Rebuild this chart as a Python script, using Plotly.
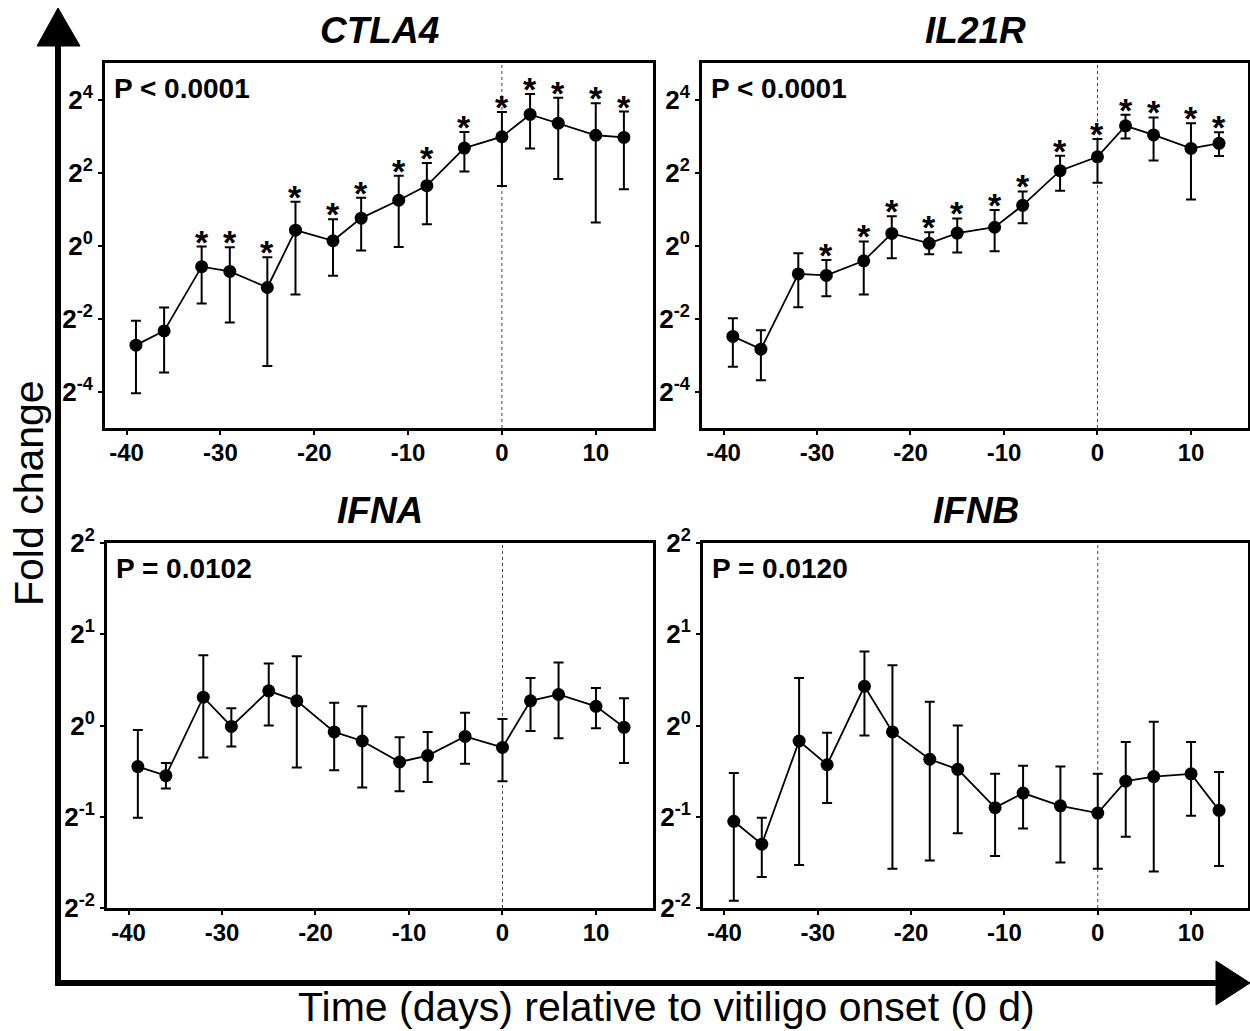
import plotly.graph_objects as go

W, H = 1250, 1031

# ---------------- data (log2 fold change) ----------------
days = [-39, -36, -32, -29, -25, -22, -18, -15, -11, -8, -4, 0, 3, 6, 10, 13]

ctla4_mean = [-2.73, -2.34, -0.58, -0.71, -1.15, 0.42, 0.13, 0.75, 1.24, 1.64, 2.67, 2.98, 3.59, 3.35, 3.02, 2.96]
ctla4_upper = [-2.06, -1.70, -0.03, -0.05, -0.32, 1.20, 0.72, 1.31, 1.91, 2.26, 3.11, 3.66, 4.15, 4.05, 3.90, 3.67]
ctla4_lower = [-4.05, -3.48, -1.59, -2.11, -3.30, -1.34, -0.83, -0.14, -0.04, 0.58, 2.03, 1.63, 2.66, 1.82, 0.63, 1.54]
ctla4_sig = [0, 0, 1, 1, 1, 1, 1, 1, 1, 1, 1, 1, 1, 1, 1, 1]

il21r_mean = [-2.49, -2.84, -0.78, -0.82, -0.42, 0.33, 0.06, 0.34, 0.50, 1.10, 2.05, 2.43, 3.28, 3.03, 2.66, 2.80]
il21r_upper = [-1.99, -2.32, -0.21, -0.40, 0.11, 0.80, 0.36, 0.74, 0.97, 1.48, 2.46, 2.92, 3.58, 3.51, 3.35, 3.10]
il21r_lower = [-3.32, -3.69, -1.69, -1.39, -1.34, -0.35, -0.24, -0.19, -0.16, 0.61, 1.50, 1.72, 2.93, 2.33, 1.26, 2.45]
il21r_sig = [0, 0, 0, 1, 1, 1, 1, 1, 1, 1, 1, 1, 1, 1, 1, 1]

ifna_mean = [-0.45, -0.55, 0.31, -0.01, 0.38, 0.27, -0.07, -0.17, -0.40, -0.33, -0.12, -0.24, 0.27, 0.34, 0.21, -0.02]
ifna_upper = [-0.05, -0.41, 0.77, 0.19, 0.68, 0.76, 0.25, 0.21, -0.13, -0.07, 0.14, 0.07, 0.52, 0.69, 0.41, 0.30]
ifna_lower = [-1.01, -0.69, -0.35, -0.23, 0.00, -0.46, -0.49, -0.68, -0.72, -0.62, -0.42, -0.61, -0.06, -0.14, -0.03, -0.41]

ifnb_mean = [-1.05, -1.30, -0.17, -0.43, 0.43, -0.07, -0.37, -0.48, -0.90, -0.74, -0.88, -0.96, -0.61, -0.56, -0.53, -0.93]
ifnb_upper = [-0.52, -1.01, 0.52, -0.08, 0.81, 0.66, 0.26, 0.00, -0.53, -0.44, -0.45, -0.53, -0.18, 0.04, -0.18, -0.51]
ifnb_lower = [-1.92, -1.66, -1.53, -0.85, -0.11, -1.57, -1.48, -1.18, -1.43, -1.13, -1.50, -1.57, -1.22, -1.60, -0.99, -1.54]

x_ticks = [-40, -30, -20, -10, 0, 10]
top_yticks = [-4, -2, 0, 2, 4]
bottom_yticks = [-2, -1, 0, 1, 2]

titles = ["CTLA4", "IL21R", "IFNA", "IFNB"]
pvals = ["P < 0.0001", "P < 0.0001", "P = 0.0102", "P = 0.0120"]

FONT = "Liberation Sans, Arial, sans-serif"

def px(x):
    return x / W

def py(y):
    return 1 - y / H

panels = [
    dict(mean=ctla4_mean, up=ctla4_upper, lo=ctla4_lower, sig=ctla4_sig,
         box=(105, 653, 63, 428), yr=[-5, 5], yt=top_yticks),
    dict(mean=il21r_mean, up=il21r_upper, lo=il21r_lower, sig=il21r_sig,
         box=(702, 1248, 63, 428), yr=[-5, 5], yt=top_yticks),
    dict(mean=ifna_mean, up=ifna_upper, lo=ifna_lower, sig=None,
         box=(107, 653, 543, 908), yr=[-2, 2], yt=bottom_yticks),
    dict(mean=ifnb_mean, up=ifnb_upper, lo=ifnb_lower, sig=None,
         box=(703, 1248, 543, 908), yr=[-2, 2], yt=bottom_yticks),
]

fig = go.Figure()
layout = dict(
    width=W, height=H, autosize=False,
    margin=dict(l=0, r=0, t=0, b=0, pad=0, autoexpand=False),
    paper_bgcolor="white", plot_bgcolor="white", showlegend=False,
    font=dict(family=FONT, color="black"),
)
annotations = []
shapes = []

for i, p in enumerate(panels):
    n = "" if i == 0 else str(i + 1)
    xa, ya = "x" + n, "y" + n
    x0, x1, y0, y1 = p["box"]
    err_plus = [u - m for u, m in zip(p["up"], p["mean"])]
    err_minus = [m - l for m, l in zip(p["mean"], p["lo"])]
    fig.add_trace(go.Scatter(
        x=days, y=p["mean"], mode="lines+markers", xaxis=xa, yaxis=ya,
        line=dict(color="black", width=1.8),
        marker=dict(color="black", size=13),
        error_y=dict(type="data", symmetric=False, array=err_plus, arrayminus=err_minus,
                     color="black", thickness=2, width=5),
    ))
    if p["sig"] is not None:
        for d, u, s in zip(days, p["up"], p["sig"]):
            if s:
                annotations.append(dict(
                    text="<b>*</b>", x=d, y=u, xref=xa, yref=ya,
                    xanchor="center", yanchor="middle", yshift=5, showarrow=False,
                    font=dict(family=FONT, size=34, color="black"),
                ))
    axis_common = dict(
        showline=True, mirror=True, linewidth=3, linecolor="black",
        showgrid=False, zeroline=False, ticks="outside", ticklen=4, tickwidth=2,
        tickcolor="black", automargin=False,
    )
    layout["xaxis" + n] = dict(
        domain=[px(x0), px(x1)], range=[-42.3, 16.1], anchor=ya,
        tickmode="array", tickvals=x_ticks, ticktext=[str(v) for v in x_ticks],
        tickfont=dict(family=FONT, size=24, color="black", weight="bold"),
        ticklabelstandoff=-3,
        **axis_common,
    )
    layout["yaxis" + n] = dict(
        domain=[py(y1), py(y0)], range=p["yr"], anchor=xa,
        tickmode="array", tickvals=p["yt"], ticktext=["2<sup>%d</sup>" % v for v in p["yt"]],
        tickfont=dict(family=FONT, size=26, color="black", weight="bold"),
        ticklabelstandoff=0,
        **axis_common,
    )
    shapes.append(dict(type="line", xref=xa, yref=ya + " domain", x0=0, x1=0, y0=0, y1=1,
                       line=dict(color="#444", width=1, dash="dot"), layer="below"))
    annotations.append(dict(
        text="<b>%s</b>" % pvals[i], xref=xa + " domain", yref=ya + " domain",
        x=0.012, y=0.93, xanchor="left", yanchor="middle", showarrow=False,
        font=dict(family=FONT, size=28, color="black"),
    ))
    annotations.append(dict(
        text="<b><i>%s</i></b>" % titles[i], xref="paper", yref="paper",
        x=px((x0 + x1) / 2), y=py(y0 - 33), xanchor="center", yanchor="middle",
        showarrow=False, font=dict(family=FONT, size=37, color="black"),
    ))

# axis labels
annotations.append(dict(
    text="Fold change", xref="paper", yref="paper", x=px(29), y=py(493),
    xanchor="center", yanchor="middle", textangle=-90, showarrow=False,
    font=dict(family=FONT, size=41, color="black"),
))
annotations.append(dict(
    text="Time (days) relative to vitiligo onset (0 d)", xref="paper", yref="paper",
    x=px(666), y=py(1007), xanchor="center", yanchor="middle", showarrow=False,
    font=dict(family=FONT, size=41, color="black"),
))

# big arrows
shapes.append(dict(type="line", xref="paper", yref="paper",
                   x0=px(58), x1=px(58), y0=py(986), y1=py(44),
                   line=dict(color="black", width=6)))
shapes.append(dict(type="path", xref="paper", yref="paper",
                   path="M %f,%f L %f,%f L %f,%f Z" % (px(37), py(46), px(58), py(8), px(80), py(46)),
                   fillcolor="black", line=dict(color="black", width=1)))
shapes.append(dict(type="line", xref="paper", yref="paper",
                   x0=px(55), x1=px(1218), y0=py(983), y1=py(983),
                   line=dict(color="black", width=6)))
shapes.append(dict(type="path", xref="paper", yref="paper",
                   path="M %f,%f L %f,%f L %f,%f Z" % (px(1216), py(961), px(1250), py(983), px(1216), py(1005)),
                   fillcolor="black", line=dict(color="black", width=1)))

layout["annotations"] = annotations
layout["shapes"] = shapes
fig.update_layout(**layout)
fig.write_html("out.html", config={"responsive": False})
